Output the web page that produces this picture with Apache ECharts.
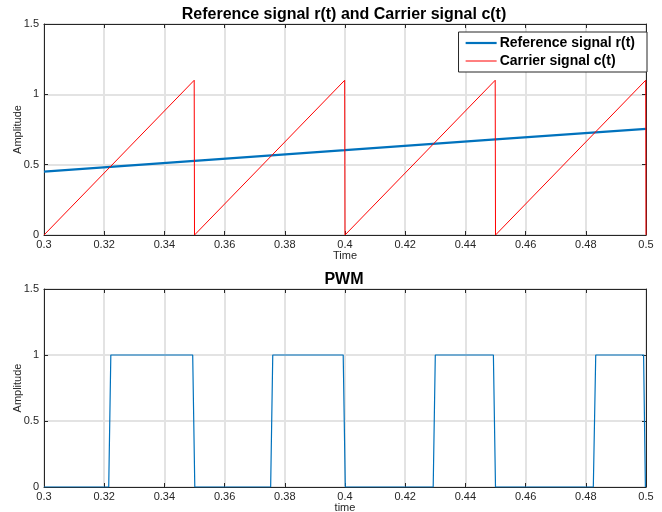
<!DOCTYPE html>
<html>
<head>
<meta charset="utf-8">
<script src="https://cdn.jsdelivr.net/npm/echarts@6/dist/echarts.min.js"></script>
<style>
  html, body { margin: 0; padding: 0; background: #fff; }
  #chart { width: 662px; height: 512px; }
</style>
</head>
<body>
<div id="chart"></div>
<script>
// Time axis tick labels (shared by both panels)
const timeTicks = ['0.3', '0.32', '0.34', '0.36', '0.38', '0.4', '0.42', '0.44', '0.46', '0.48', '0.5'];
const ampTicks = ['0', '0.5', '1', '1.5'];

// Reference signal r(t)
const refTime = [0.3, 0.35, 0.4, 0.45, 0.5];
const refValue = [0.45, 0.527, 0.603, 0.68, 0.755];

// Sawtooth carrier c(t)
const carrierTime = [0.3, 0.3499, 0.35, 0.3999, 0.4, 0.4499, 0.45, 0.4999, 0.5];
const carrierValue = [0, 1.1, 0, 1.1, 0, 1.1, 0, 1.1, 0];

// PWM output (sampled comparison r > c)
const pwmTime = [0.3, 0.3215, 0.3222, 0.3494, 0.3501, 0.3753, 0.376, 0.3994, 0.4001,
                 0.4293, 0.43, 0.4493, 0.45, 0.4825, 0.4833, 0.4992, 0.4998, 0.5];
const pwmValue = [0, 0, 1, 1, 0, 0, 1, 1, 0, 0, 1, 1, 0, 0, 1, 1, 0, 0];

const pairs = (xs, ys) => xs.map((x, i) => [x, ys[i]]);

const INK = '#262626';
const GRID = '#e3e3e3';
const FONT = '"Liberation Sans", Arial, Helvetica, sans-serif';
const REF_COLOR = '#0072BD';
const CARRIER_COLOR = '#FF0000';

function fmtTime(v) {
  const i = Math.round((v - 0.3) / 0.02);
  return timeTicks[i] !== undefined ? timeTicks[i] : '';
}
function fmtAmp(v) {
  const i = Math.round(v / 0.5);
  return ampTicks[i] !== undefined ? ampTicks[i] : '';
}

function xAxes(gridIndex, name) {
  return [
    {
      type: 'value', gridIndex, min: 0.3, max: 0.5, interval: 0.02,
      name, nameLocation: 'middle', nameGap: 15, nameMoveOverlap: false,
      nameTextStyle: { color: INK, fontSize: 11, fontFamily: FONT },
      axisLine: { show: true, onZero: false, lineStyle: { color: INK, width: 1 } },
      axisTick: { show: true, inside: true, length: 4, lineStyle: { color: INK } },
      axisLabel: { color: INK, fontSize: 11, fontFamily: FONT, margin: 4, formatter: fmtTime },
      splitLine: { show: true, lineStyle: { color: GRID, width: 2 } }
    },
    {
      type: 'value', gridIndex, position: 'top', min: 0.3, max: 0.5, interval: 0.02,
      axisLine: { show: true, onZero: false, lineStyle: { color: INK, width: 1 } },
      axisTick: { show: true, inside: true, length: 4, lineStyle: { color: INK } },
      axisLabel: { show: false },
      splitLine: { show: false }
    }
  ];
}
function yAxes(gridIndex) {
  return [
    {
      type: 'value', gridIndex, min: 0, max: 1.5, interval: 0.5,
      name: 'Amplitude', nameLocation: 'middle', nameGap: 21, nameMoveOverlap: false,
      nameTextStyle: { color: INK, fontSize: 11, fontFamily: FONT },
      axisLine: { show: true, onZero: false, lineStyle: { color: INK, width: 1 } },
      axisTick: { show: true, inside: true, length: 4, lineStyle: { color: INK } },
      axisLabel: { color: INK, fontSize: 11, fontFamily: FONT, margin: 5, formatter: fmtAmp },
      splitLine: { show: true, lineStyle: { color: GRID, width: 2 } }
    },
    {
      type: 'value', gridIndex, position: 'right', min: 0, max: 1.5, interval: 0.5,
      axisLine: { show: true, onZero: false, lineStyle: { color: INK, width: 1 } },
      axisTick: { show: true, inside: true, length: 4, lineStyle: { color: INK } },
      axisLabel: { show: false },
      splitLine: { show: false }
    }
  ];
}

const chart = echarts.init(document.getElementById('chart'), null, { renderer: 'canvas' });
chart.setOption({
  animation: false,
  backgroundColor: '#fff',
  title: [
    {
      text: 'Reference signal r(t) and Carrier signal c(t)',
      left: 339, top: 2, textAlign: 'center',
      textStyle: { fontSize: 16, fontWeight: 'bold', color: '#000', fontFamily: FONT }
    },
    {
      text: 'PWM',
      left: 339, top: 267, textAlign: 'center',
      textStyle: { fontSize: 16, fontWeight: 'bold', color: '#000', fontFamily: FONT }
    }
  ],
  legend: {
    data: [
      { name: 'Reference signal r(t)', lineStyle: { width: 2.2, color: REF_COLOR } },
      { name: 'Carrier signal c(t)', lineStyle: { width: 1, color: CARRIER_COLOR } }
    ],
    orient: 'vertical',
    right: 15, top: 32,
    itemWidth: 31, itemHeight: 14, itemGap: 4,
    padding: [4, 12, 4, 6],
    backgroundColor: '#fff',
    borderColor: INK, borderWidth: 1, borderRadius: 0,
    itemStyle: { opacity: 0 },
    textStyle: { fontSize: 14, fontWeight: 'bold', color: '#000', fontFamily: FONT, padding: [0, 0, 0, -2] }
  },
  grid: [
    { left: 44, right: 16, top: 24, height: 211, containLabel: false, outerBoundsMode: 'none' },
    { left: 44, right: 16, top: 289, height: 198, containLabel: false, outerBoundsMode: 'none' }
  ],
  xAxis: [...xAxes(0, 'Time'), ...xAxes(1, 'time')],
  yAxis: [...yAxes(0), ...yAxes(1)],
  series: [
    {
      name: 'Reference signal r(t)', type: 'line', xAxisIndex: 0, yAxisIndex: 0,
      data: pairs(refTime, refValue), showSymbol: false, symbol: 'none',
      lineStyle: { color: REF_COLOR, width: 2.2 }, itemStyle: { color: REF_COLOR }, z: 3
    },
    {
      name: 'Carrier signal c(t)', type: 'line', xAxisIndex: 0, yAxisIndex: 0,
      data: pairs(carrierTime, carrierValue), showSymbol: false, symbol: 'none',
      lineStyle: { color: CARRIER_COLOR, width: 1 }, itemStyle: { color: CARRIER_COLOR }, z: 4
    },
    {
      name: 'PWM', type: 'line', xAxisIndex: 2, yAxisIndex: 2,
      data: pairs(pwmTime, pwmValue), showSymbol: false, symbol: 'none',
      lineStyle: { color: REF_COLOR, width: 1.2 }, itemStyle: { color: REF_COLOR }, z: 3
    }
  ]
});
</script>
</body>
</html>
